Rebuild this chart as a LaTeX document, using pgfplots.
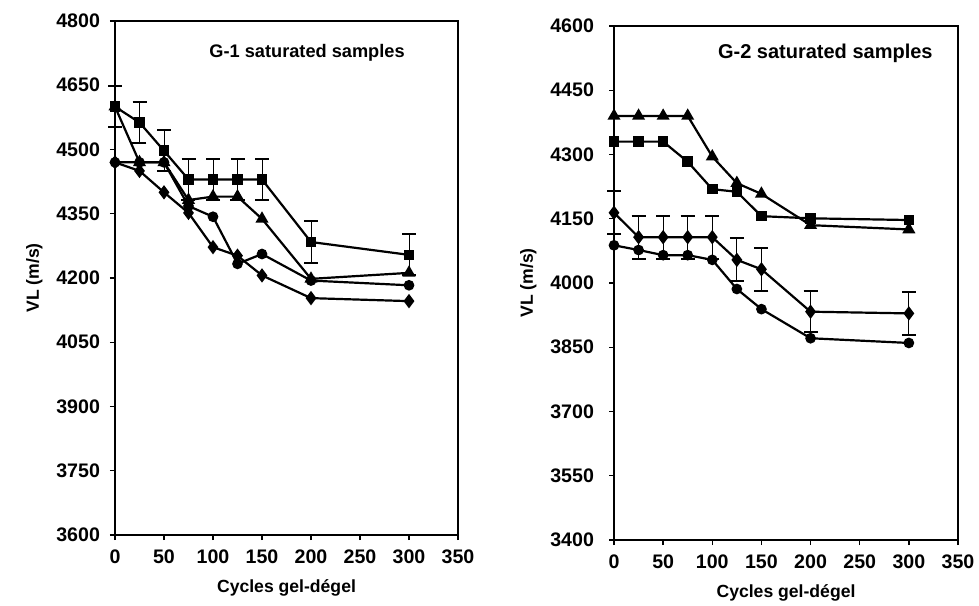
\documentclass[border=0pt]{standalone}
\usepackage{fontspec}
\setmainfont{Liberation Sans}
\usepackage{pgfplots}
\pgfplotsset{compat=1.18}

\pgfplotsset{
  vlstyle/.style={
    scale only axis,
    width=171.5pt, height=257pt,
    xmin=0, xmax=350, xtick={0,50,...,350},
    tick align=outside, xtick pos=bottom, ytick pos=left,
    major tick length=2.5pt,
    tick style={black, line width=0.7pt},
    axis line style={line width=0.8pt},
    ticklabel style={font=\bfseries\fontsize{9.8}{12}\selectfont},
    xticklabel style={yshift=-1.5pt},
    /pgf/number format/assume math mode=true,
    /pgf/number format/1000 sep={},
    label style={font=\bfseries\fontsize{8.8}{11}\selectfont},
    xlabel shift=1pt,
    xlabel={Cycles gel-dégel},
    ylabel={VL (m/s)},
    cycle list={{black}},
    every axis plot/.append style={black, line width=1.1pt, mark size=2.1pt, mark options={solid, fill=black}},
    error bars/error mark options={rotate=90, mark size=3.5pt, line width=1pt},
    clip=false,
  },
}

\begin{document}
\begin{tikzpicture}
\useasboundingbox (0pt,0pt) rectangle (489.5pt,302.5pt);

% left panel
\begin{axis}[vlstyle, at={(57.5pt,35pt)}, anchor=south west,
  ymin=3600, ymax=4800, ytick={3600,3750,...,4800},
  yticklabel style={xshift=-1.5pt}]
\addplot[mark=square*, error bars/.cd, y dir=both, y explicit]
  table[x=c, y=v, y error=e] {
c v e
0 4600 48
25 4563 48
50 4497 48
75 4430 48
100 4430 48
125 4430 48
150 4430 48
200 4284 48
300 4254 48
};
\addplot[mark=triangle*, mark size=2.7pt] table[x=c, y=v] {
c v
0 4600
25 4470
50 4470
75 4382
100 4390
125 4390
150 4338
200 4198
300 4212
};
\addplot[mark=*] table[x=c, y=v] {
c v
0 4470
25 4470
50 4470
75 4368
100 4343
125 4233
150 4256
200 4194
300 4183
};
\addplot[mark=diamond*, mark size=2.7pt] table[x=c, y=v] {
c v
0 4470
25 4450
50 4400
75 4352
100 4272
125 4252
150 4206
200 4153
300 4146
};
\node[font=\bfseries\fontsize{9.1}{11}\selectfont] at (axis cs:196,4725) {G-1 saturated samples};
\end{axis}

% right panel
\begin{axis}[vlstyle, at={(307pt,32.5pt)}, anchor=south west, width=172pt,
  ymin=3400, ymax=4600, ytick={3400,3550,...,4600},
  yticklabel style={xshift=-4pt}, ylabel shift=0pt]
\addplot[mark=triangle*, mark size=2.7pt] table[x=c, y=v] {
c v
0 4390
25 4390
50 4390
75 4390
100 4295
125 4233
150 4208
200 4135
300 4125
};
\addplot[mark=square*] table[x=c, y=v] {
c v
0 4330
25 4330
50 4330
75 4283
100 4219
125 4213
150 4156
200 4151
300 4147
};
\addplot[mark=diamond*, mark size=2.7pt, error bars/.cd, y dir=both, y explicit]
  table[x=c, y=v, y error=e] {
c v e
0 4164 50
25 4107 50
50 4107 50
75 4107 50
100 4107 50
125 4054 50
150 4032 50
200 3933 48
300 3929 50
};
\addplot[mark=*] table[x=c, y=v] {
c v
0 4088
25 4077
50 4065
75 4065
100 4054
125 3986
150 3939
200 3871
300 3860
};
\node[font=\bfseries\fontsize{10}{12}\selectfont] at (axis cs:215,4537) {G-2 saturated samples};
\end{axis}
\end{tikzpicture}
\end{document}
